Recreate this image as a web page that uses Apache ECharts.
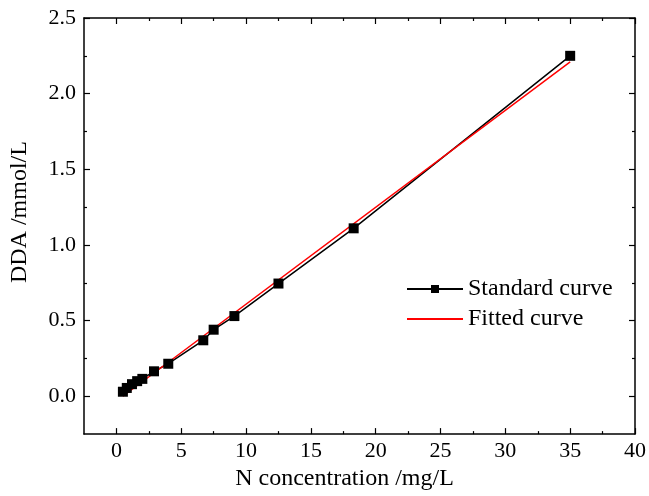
<!DOCTYPE html>
<html>
<head>
<meta charset="utf-8">
<script src="https://cdn.jsdelivr.net/npm/echarts@6/dist/echarts.min.js"></script>
<style>
  html, body { margin: 0; padding: 0; background: #fff; }
  #chart { width: 649px; height: 496px; }
</style>
</head>
<body>
<div id="chart"></div>
<script>
// standard curve points (N concentration mg/L, DDA mmol/L)
var stdX = [0.5, 0.8, 1.2, 1.6, 2.0, 2.9, 4.0, 6.7, 7.5, 9.1, 12.5, 18.3, 35.0];
var stdY = [0.03, 0.055, 0.08, 0.1, 0.115, 0.165, 0.215, 0.37, 0.44, 0.53, 0.745, 1.11, 2.25];
// fitted line end points
var fitX = [0.5, 35.0];
var fitY = [0.0, 2.21];
// ticks
var xMajor = [0, 5, 10, 15, 20, 25, 30, 35, 40];
var xMinor = [2.5, 7.5, 12.5, 17.5, 22.5, 27.5, 32.5, 37.5];
var yMajor = [0, 0.5, 1.0, 1.5, 2.0, 2.5];
var yMinor = [0.25, 0.75, 1.25, 1.75, 2.25];

var FONT = '"Liberation Serif", "DejaVu Serif", serif';

function pairs(xs, ys) {
    var out = [];
    for (var i = 0; i < xs.length; i++) out.push([xs[i], ys[i]]);
    return out;
}

// one helper for every framing axis (major / minor ticks on each side)
function frameAxis(pos, min, max, ticks, len, withLine) {
    return {
        type: 'value',
        position: pos,
        min: min,
        max: max,
        splitLine: { show: false },
        axisLine: { show: withLine, onZero: false, lineStyle: { color: '#000', width: 1.5 } },
        axisTick: { show: true, inside: true, length: len, customValues: ticks, lineStyle: { color: '#000', width: 1.2 } },
        axisLabel: { show: false }
    };
}

window.addEventListener('load', function() {
    var chart = echarts.init(document.getElementById('chart'));

    var xBottom = frameAxis('bottom', -2.5, 40, xMajor, 6, true);
    xBottom.name = 'N concentration /mg/L';
    xBottom.nameLocation = 'middle';
    xBottom.nameGap = 32;
    xBottom.nameTextStyle = { fontFamily: FONT, fontSize: 24, color: '#000', padding: [0, 30, 0, 0] };
    xBottom.axisLabel = {
        show: true, customValues: xMajor, margin: 6,
        fontFamily: FONT, fontSize: 22, color: '#000',
        formatter: function(v) { return String(v); }
    };

    var yLeft = frameAxis('left', -0.25, 2.5, yMajor, 6, true);
    yLeft.name = 'DDA /mmol/L';
    yLeft.nameLocation = 'middle';
    yLeft.nameGap = 52;
    yLeft.nameTextStyle = { fontFamily: FONT, fontSize: 24, color: '#000', padding: [0, 0, 0, 28] };
    yLeft.axisLabel = {
        show: true, customValues: yMajor, margin: 8,
        fontFamily: FONT, fontSize: 22, color: '#000',
        formatter: function(v) { return v.toFixed(1); }
    };

    chart.setOption({
        backgroundColor: '#fff',
        animation: false,
        grid: { left: 83, right: 10, top: 18, bottom: 61 },
        legend: {
            orient: 'vertical',
            left: 401,
            top: 272,
            itemWidth: 56,
            itemHeight: 10,
            itemGap: 6,
            textStyle: { fontFamily: FONT, fontSize: 24, color: '#000' },
            data: [
                { name: 'Standard curve' },
                { name: 'Fitted curve', itemStyle: { opacity: 0 } }
            ]
        },
        xAxis: [
            xBottom,
            frameAxis('bottom', -2.5, 40, xMinor, 3, false),
            frameAxis('top', -2.5, 40, xMajor, 6, true),
            frameAxis('top', -2.5, 40, xMinor, 3, false)
        ],
        yAxis: [
            yLeft,
            frameAxis('left', -0.25, 2.5, yMinor, 3, false),
            frameAxis('right', -0.25, 2.5, yMajor, 6, true),
            frameAxis('right', -0.25, 2.5, yMinor, 3, false)
        ],
        series: [{
            name: 'Standard curve',
            type: 'line',
            data: pairs(stdX, stdY),
            symbol: 'rect',
            symbolSize: 10,
            itemStyle: { color: '#000' },
            lineStyle: { color: '#000', width: 1.5 }
        }, {
            name: 'Fitted curve',
            type: 'line',
            data: pairs(fitX, fitY),
            symbol: 'none',
            itemStyle: { color: '#ff0000' },
            lineStyle: { color: '#ff0000', width: 1.5 }
        }]
    });
});
</script>
</body>
</html>
